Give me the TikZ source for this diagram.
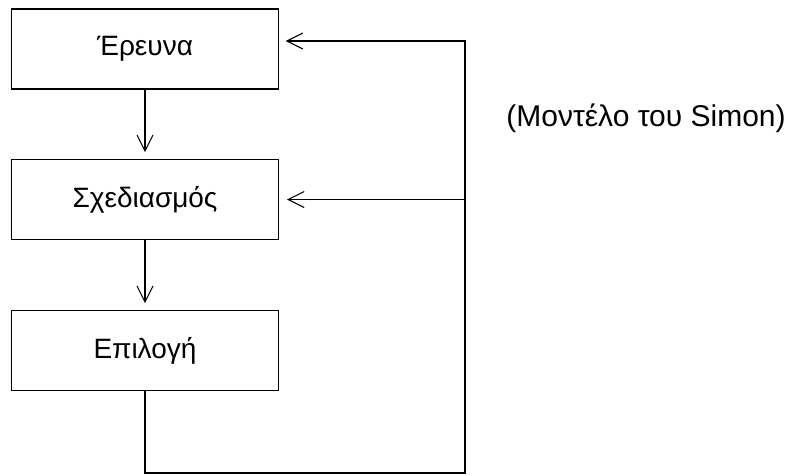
\documentclass[tikz,border=0pt]{standalone}
\usepackage{fontspec}
\setmainfont{Liberation Sans}
\usetikzlibrary{arrows.meta}
\tikzset{
  x=0.75pt, y=-0.75pt,
  stage/.style={draw, line width=1pt, minimum width=200pt, minimum height=60pt,
                inner sep=0pt, font=\fontsize{21}{25}\selectfont},
  flow/.style={line width=1pt},
  arr/.style={flow, -{Straight Barb[length=12pt, width=12pt, line width=0.8pt]}},
  caption/.style={font=\fontsize{22.5}{27}\selectfont, inner sep=0pt}
}
\begin{document}
\begin{tikzpicture}
\useasboundingbox (0,0) rectangle (788,475);

% the three stages of the model
\node[stage] (b1) at (145,49)    {Έρευνα};
\node[stage] (b2) at (145,199.5) {Σχεδιασμός};
\node[stage] (b3) at (145,350.5) {Επιλογή};

\node[caption] (cap) at (646,118) {(Μοντέλο του Simon)};

% forward flow
\draw[arr, shorten >=5pt] (b1) -- (b2);
\draw[arr, shorten >=5pt] (b2) -- (b3);

% feedback loop
\coordinate (lb) at (465,473);
\coordinate (lt) at (465,41);
\coordinate (lm) at (465,199.5);
\draw[arr, shorten >=5pt, line join=miter]
  (b3.south) -- (b3.south |- lb) -- (lb) -- (lt) -- (lt -| b1.east);
\draw[arr, shorten >=6pt] (lm) -- (lm -| b2.east);
\end{tikzpicture}
\end{document}
